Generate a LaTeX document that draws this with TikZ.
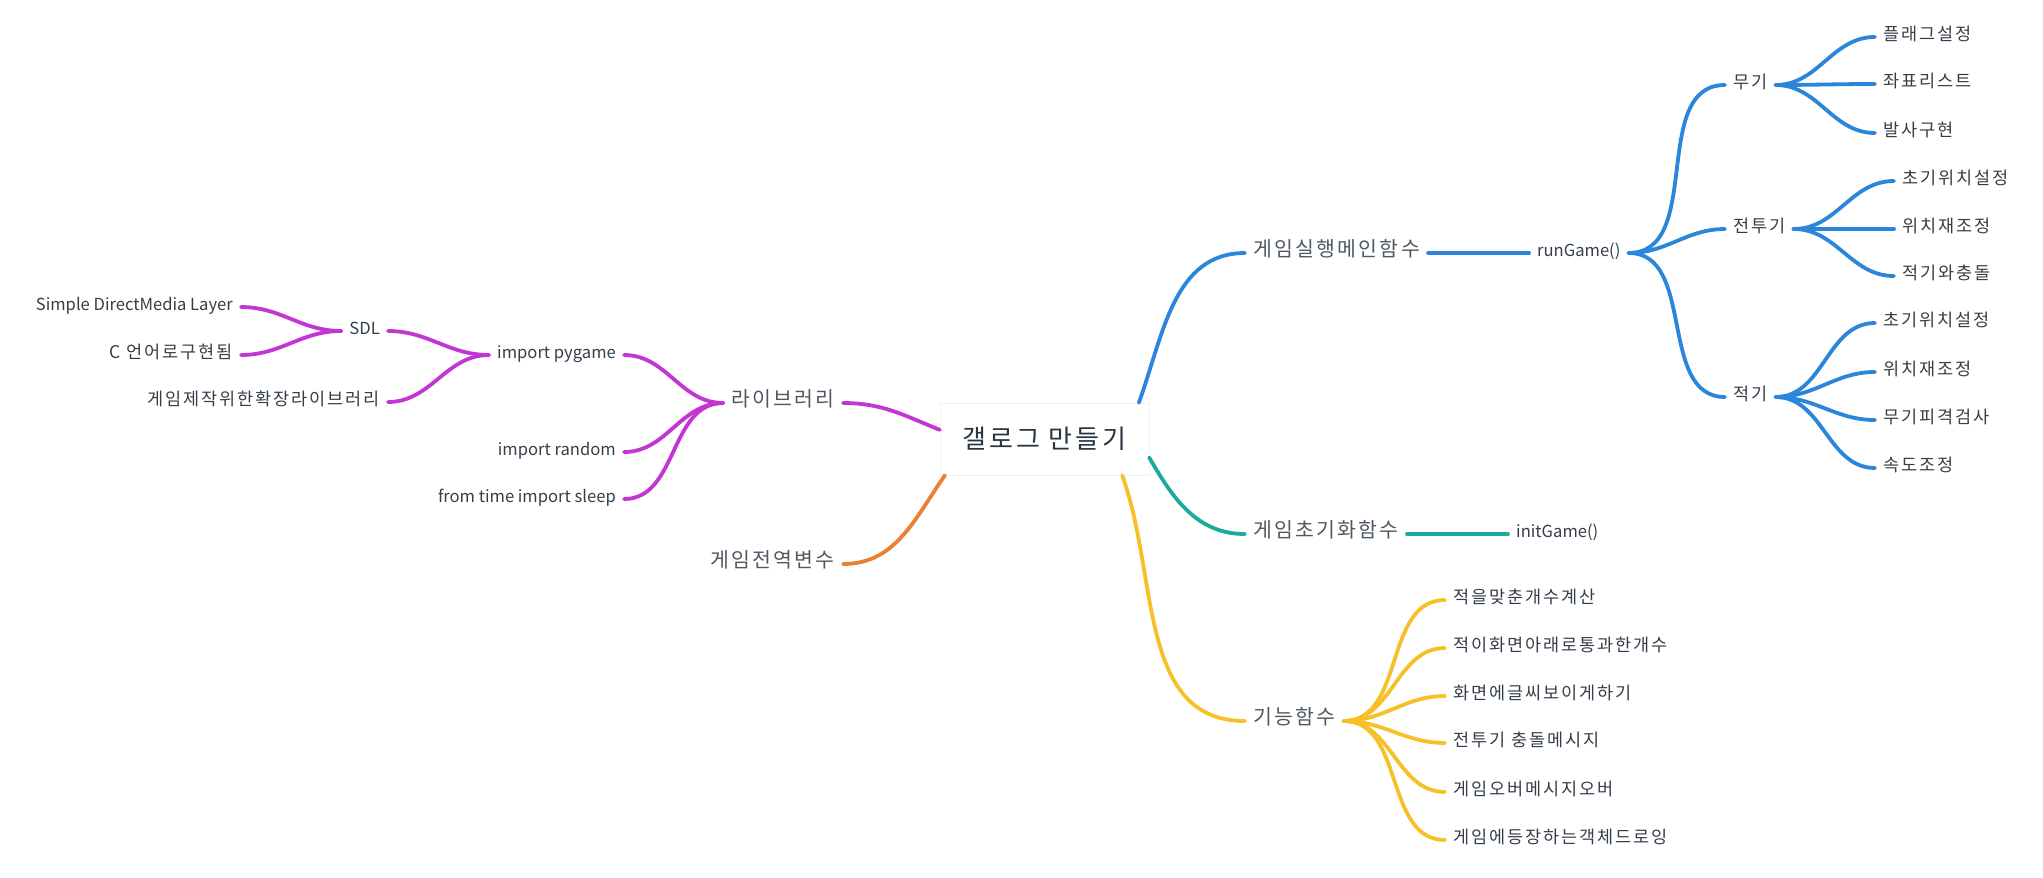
\documentclass[tikz,border=0pt]{standalone}
\usepackage{fontspec}
\setmainfont{Noto Sans CJK KR}[LetterSpace=11]
\newfontfamily\lat{Noto Sans CJK KR}
\definecolor{txt}{RGB}{52,62,74}
\definecolor{topictxt}{RGB}{78,88,98}
\definecolor{roottxt}{RGB}{40,52,66}
\definecolor{libc}{RGB}{194,54,212}
\definecolor{runc}{RGB}{43,133,218}
\definecolor{initc}{RGB}{26,172,155}
\definecolor{globc}{RGB}{234,128,54}
\definecolor{funcc}{RGB}{246,193,40}

\begin{document}
\begin{tikzpicture}[x=1pt,y=-1pt,
    leaf/.style={font=\fontsize{17.5}{20}\selectfont,text=txt,inner xsep=8pt,inner ysep=0pt,text height=0.7em,text depth=0pt},
    code/.style={leaf,font=\lat\fontsize{16.6}{20}\selectfont},
    topic/.style={leaf,font=\fontsize{20.5}{24}\selectfont,text=topictxt},
    lr/.style={anchor=west},
    ll/.style={anchor=east},
    rootbox/.style={draw=black!5,fill=white,minimum width=209pt,minimum height=72pt,inner sep=0pt,font=\fontsize{26}{30}\selectfont,text=roottxt},
    branch/.style={line width=3.8pt,line cap=round}]
  \useasboundingbox (0,0) rectangle (2043,878);
  \draw
    (1044.5,439) node[rootbox] (root){갤로그 만들기}
    (843,403) node[topic,ll] (lib){라이브러리}
    (624,355) node[code,ll] (pygame){import pygame}
    (624,452) node[code,ll] (random){import random}
    (624,499) node[code,ll] (sleep){from time import sleep}
    (388,331) node[code,ll] (sdl){SDL}
    (388,402) node[leaf,ll] (ext){게임제작위한확장라이브러리}
    (241,307) node[code,ll] (sdlname){Simple DirectMedia Layer}
    (241,355) node[leaf,ll] (clang){C 언어로구현됨}
    (843,564) node[topic,ll] (glob){게임전역변수}
    (1245,253) node[topic,lr] (game){게임실행메인함수}
    (1529,253) node[code,lr] (run){runGame()}
    (1725,85) node[leaf,lr] (weapon){무기}
    (1875,37) node[leaf,lr] (flag){플래그설정}
    (1875,84) node[leaf,lr] (coord){좌표리스트}
    (1875,133) node[leaf,lr] (fire){발사구현}
    (1725,229) node[leaf,lr] (fighter){전투기}
    (1894,181) node[leaf,lr] (fpos){초기위치설정}
    (1894,229) node[leaf,lr] (fadj){위치재조정}
    (1894,276) node[leaf,lr] (fhit){적기와충돌}
    (1725,397) node[leaf,lr] (enemy){적기}
    (1875,323) node[leaf,lr] (epos){초기위치설정}
    (1875,372) node[leaf,lr] (eadj){위치재조정}
    (1875,420) node[leaf,lr] (echk){무기피격검사}
    (1875,468) node[leaf,lr] (espd){속도조정}
    (1245,534) node[topic,lr] (init){게임초기화함수}
    (1508,534) node[code,lr] (initg){initGame()}
    (1245,721) node[topic,lr] (func){기능함수}
    (1445,600) node[leaf,lr] (f1){적을맞춘개수계산}
    (1445,648) node[leaf,lr] (f2){적이화면아래로통과한개수}
    (1445,696) node[leaf,lr] (f3){화면에글씨보이게하기}
    (1445,743) node[leaf,lr] (f4){전투기 충돌메시지}
    (1445,792) node[leaf,lr] (f5){게임오버메시지오버}
    (1445,840) node[leaf,lr] (f6){게임에등장하는객체드로잉};
  % library branch
  \begin{scope}[branch,libc,out=180,in=0]
    \draw (root.175) to[out=158] (lib.east);
    \draw (lib.west) to (pygame.east);
    \draw (lib.west) to (random.east);
    \draw (lib.west) to (sleep.east);
    \draw (pygame.west) to (sdl.east);
    \draw (pygame.west) to (ext.east);
    \draw (sdl.west) to (sdlname.east);
    \draw (sdl.west) to (clang.east);
  \end{scope}
  \begin{scope}[branch,globc]
    \draw (root.200) to[out=235,in=0] (glob.east);
  \end{scope}
  % runGame branch
  \begin{scope}[branch,runc,out=0,in=180]
    \draw (root.21) to[out=70] (game.west);
    \draw (game.east) to (run.west);
    \draw (run.east) to (weapon.west);
    \draw (run.east) to (fighter.west);
    \draw (run.east) to (enemy.west);
    \draw (weapon.east) to (flag.west);
    \draw (weapon.east) to (coord.west);
    \draw (weapon.east) to (fire.west);
    \draw (fighter.east) to (fpos.west);
    \draw (fighter.east) to (fadj.west);
    \draw (fighter.east) to (fhit.west);
    \draw (enemy.east) to (epos.west);
    \draw (enemy.east) to (eadj.west);
    \draw (enemy.east) to (echk.west);
    \draw (enemy.east) to (espd.west);
  \end{scope}
  \begin{scope}[branch,initc,out=0,in=180]
    \draw (root.-10) to[out=-60] (init.west);
    \draw (init.east) to (initg.west);
  \end{scope}
  \begin{scope}[branch,funcc,out=0,in=180]
    \draw (root.-25.5) to[out=-70] (func.west);
    \draw (func.east) to (f1.west);
    \draw (func.east) to (f2.west);
    \draw (func.east) to (f3.west);
    \draw (func.east) to (f4.west);
    \draw (func.east) to (f5.west);
    \draw (func.east) to (f6.west);
  \end{scope}
\end{tikzpicture}
\end{document}
